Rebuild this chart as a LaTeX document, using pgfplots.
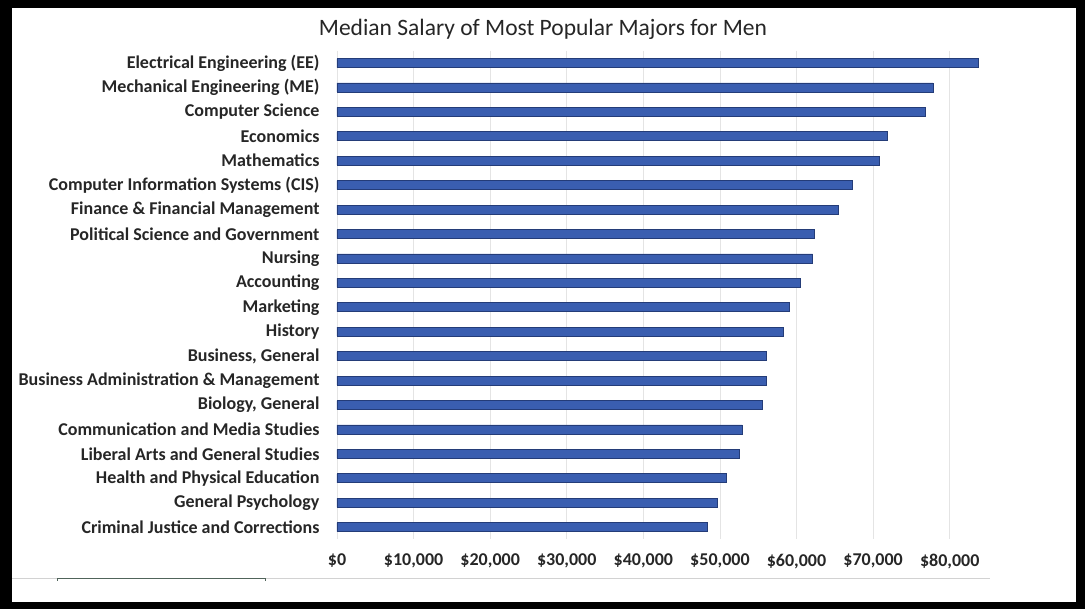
\documentclass[border=0pt]{standalone}
\usepackage{pgfplots}
\pgfplotsset{compat=1.18}
\usepackage{fontspec}
\setmainfont{Carlito}
\definecolor{barblue}{RGB}{58,94,176}
\definecolor{baredge}{RGB}{36,60,120}
\definecolor{gridgray}{RGB}{228,228,228}
\definecolor{txt}{RGB}{38,38,38}
\definecolor{seg}{RGB}{80,100,90}
\begin{document}
\begin{tikzpicture}
\useasboundingbox (0pt,0pt) rectangle (1085pt,609pt);
\fill[black] (0pt,0pt) rectangle (1085pt,609pt);
\fill[white] (12pt,7pt) rectangle (1076pt,601pt);
\draw[gray!35, line width=1pt] (12pt,30pt) -- (990pt,30pt);
\draw[seg, line width=1pt] (57pt,28pt) -- (57pt,30pt) -- (265pt,30pt) -- (265pt,28pt);
\node[font=\fontsize{23.5}{26}\selectfont, text=txt] at (543pt,580pt) {Median Salary of Most Popular Majors for Men};
\begin{axis}[
  at={(337pt,69.6pt)}, anchor=south west, scale only axis,
  width=651pt, height=488.6pt,
  xbar, bar width=9pt,
  xmin=0, xmax=85000, ymin=-0.5, ymax=19.5, y dir=reverse,
  scaled x ticks=false,
  axis line style={draw=none}, major tick length=0pt,
  xmajorgrids, grid style={gridgray, line width=0.8pt},
  ytick={0,...,19},
  yticklabels={Electrical Engineering (EE), Mechanical Engineering (ME), Computer Science, Economics, Mathematics, Computer Information Systems (CIS), Finance \& Financial Management, Political Science and Government, Nursing, Accounting, Marketing, History, {Business, General}, Business Administration \& Management, {Biology, General}, Communication and Media Studies, Liberal Arts and General Studies, Health and Physical Education, General Psychology, Criminal Justice and Corrections},
  xtick={0,10000,20000,30000,40000,50000,60000,70000,80000},
  xticklabels={\$0,{\$10,000},{\$20,000},{\$30,000},{\$40,000},{\$50,000},{\$60,000},{\$70,000},{\$80,000}},
  yticklabel style={font=\fontsize{18}{20}\selectfont\bfseries, text=txt, xshift=-14pt},
  xticklabel style={font=\fontsize{18}{20}\selectfont\bfseries, text=txt, yshift=-11pt},
]
\addplot[fill=barblue, draw=baredge, line width=0.7pt] coordinates {
(83700,0) (77800,1) (76800,2) (71800,3) (70850,4) (67300,5) (65500,6) (62300,7) (62100,8) (60450,9)
(59100,10) (58300,11) (56100,12) (56100,13) (55600,14) (52900,15) (52500,16) (50900,17) (49700,18) (48400,19)};
\end{axis}
\end{tikzpicture}
\end{document}
